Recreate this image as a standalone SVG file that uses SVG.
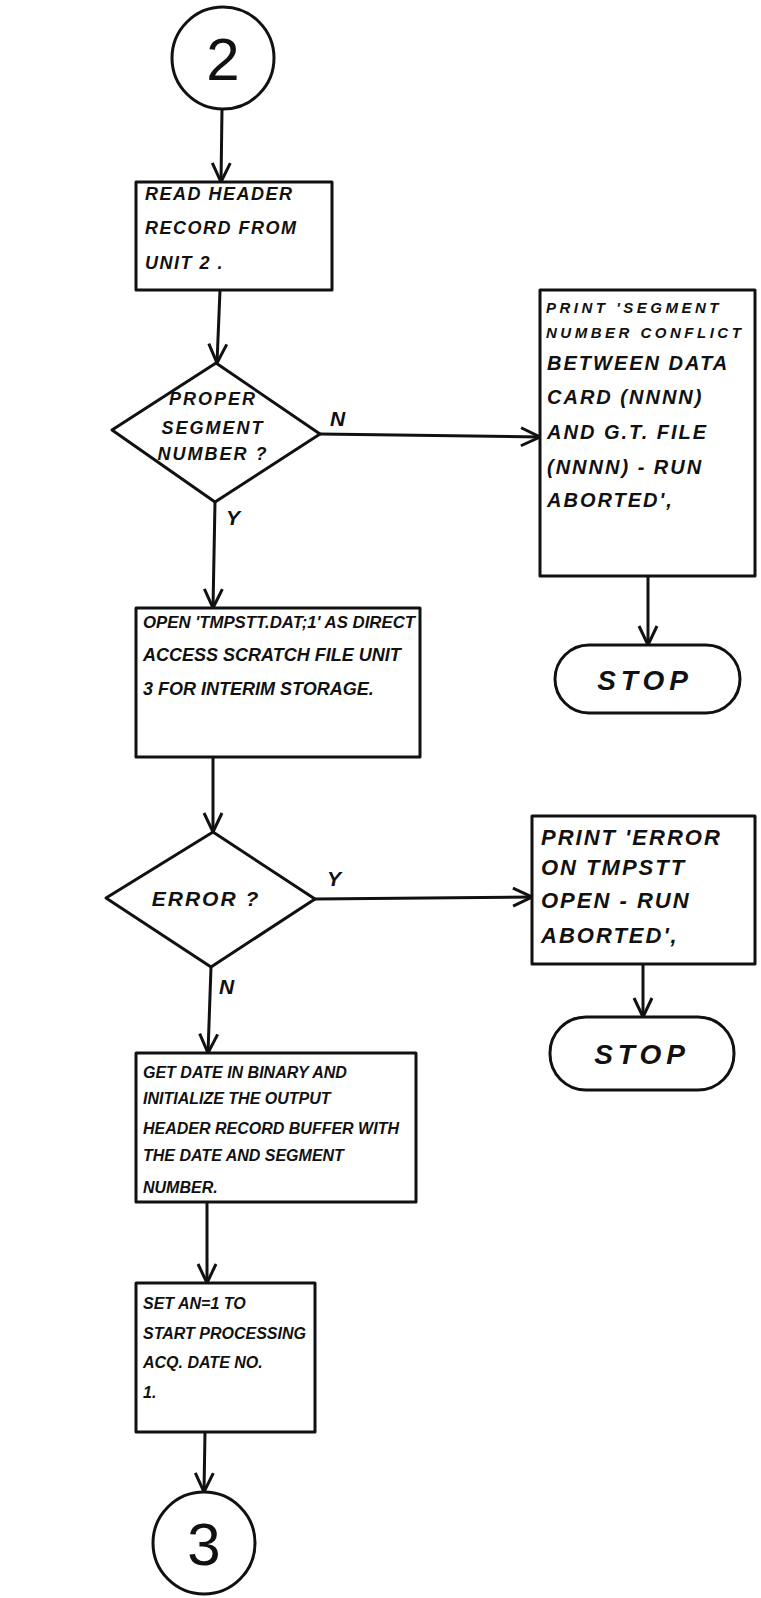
<svg xmlns="http://www.w3.org/2000/svg" width="761" height="1598" viewBox="0 0 761 1598">
<defs>
<style>
.shape{fill:none;stroke:#111;stroke-width:3;stroke-linejoin:round}
.conn{fill:none;stroke:#111;stroke-width:3}
.t{font-family:"Liberation Sans",Arial,sans-serif;font-style:italic;font-weight:bold;fill:#111;font-size:16px}
.tr{font-size:18px;letter-spacing:1.5px}
.td{font-size:18px;letter-spacing:2px}
.ts{font-size:15px;letter-spacing:3.5px}
.tm{font-size:20px;letter-spacing:2px}
.te{font-size:22px;letter-spacing:2px}
.lbl{font-family:"Liberation Sans",Arial,sans-serif;font-style:italic;font-weight:bold;fill:#111;font-size:21px}
.err{letter-spacing:2px}
.stop{font-family:"Liberation Sans",Arial,sans-serif;font-style:italic;font-weight:bold;fill:#111;font-size:28px;letter-spacing:5px}
.conn-t{font-family:"Liberation Sans",Arial,sans-serif;fill:#111;font-size:60px}
</style>
<marker id="arr" viewBox="0 0 22 22" refX="21" refY="11" markerWidth="22" markerHeight="22" markerUnits="userSpaceOnUse" orient="auto">
<path d="M2,2 L21,11 L2,20" fill="none" stroke="#111" stroke-width="3"/>
</marker>
</defs>
<rect width="761" height="1598" fill="#fff"/>

<g id="connectors">
<line class="conn" x1="222" y1="109" x2="221" y2="182" marker-end="url(#arr)"/>
<line class="conn" x1="220" y1="290" x2="217" y2="363" marker-end="url(#arr)"/>
<line class="conn" x1="320" y1="434" x2="540" y2="437" marker-end="url(#arr)"/>
<line class="conn" x1="648" y1="576" x2="648" y2="645" marker-end="url(#arr)"/>
<line class="conn" x1="215" y1="502" x2="213" y2="608" marker-end="url(#arr)"/>
<line class="conn" x1="213" y1="757" x2="213" y2="832" marker-end="url(#arr)"/>
<line class="conn" x1="315" y1="899" x2="532" y2="897" marker-end="url(#arr)"/>
<line class="conn" x1="643" y1="964" x2="643" y2="1017" marker-end="url(#arr)"/>
<line class="conn" x1="211" y1="967" x2="208" y2="1053" marker-end="url(#arr)"/>
<line class="conn" x1="207" y1="1202" x2="207" y2="1283" marker-end="url(#arr)"/>
<line class="conn" x1="205" y1="1432" x2="204" y2="1492" marker-end="url(#arr)"/>
<text class="lbl" x="330" y="426">N</text>
<text class="lbl" x="226" y="525">Y</text>
<text class="lbl" x="327" y="886">Y</text>
<text class="lbl" x="219" y="994">N</text>
</g>

<g id="start2">
<circle class="shape" cx="223" cy="58" r="51"/>
<text class="conn-t" x="223" y="80" text-anchor="middle">2</text>
</g>

<g id="readHeader">
<rect class="shape" x="136" y="182" width="196" height="108"/>
<text class="t tr" x="145" y="200">READ HEADER</text>
<text class="t tr" x="145" y="234">RECORD FROM</text>
<text class="t tr" x="145" y="269">UNIT 2 .</text>
</g>

<g id="properSegment">
<polygon class="shape" points="216,363 320,434 215,502 112,430"/>
<text class="t td" x="213" y="405" text-anchor="middle">PROPER</text>
<text class="t td" x="213" y="434" text-anchor="middle">SEGMENT</text>
<text class="t td" x="213" y="460" text-anchor="middle">NUMBER ?</text>
</g>

<g id="printSegment">
<rect class="shape" x="540" y="290" width="215" height="286"/>
<text class="t ts" x="546" y="313">PRINT 'SEGMENT</text>
<text class="t ts" x="546" y="338">NUMBER CONFLICT</text>
<text class="t tm" x="547" y="370">BETWEEN DATA</text>
<text class="t tm" x="547" y="404">CARD (NNNN)</text>
<text class="t tm" x="547" y="439">AND G.T. FILE</text>
<text class="t tm" x="547" y="474">(NNNN) - RUN</text>
<text class="t tm" x="547" y="507">ABORTED',</text>
</g>

<g id="stop1">
<rect class="shape" x="555" y="645" width="185" height="68" rx="34"/>
<text class="stop" x="645" y="690" text-anchor="middle">STOP</text>
</g>

<g id="openTmpstt">
<rect class="shape" x="136" y="608" width="284" height="149"/>
<text class="t" x="143" y="628" style="font-size:17px" textLength="272" lengthAdjust="spacingAndGlyphs">OPEN 'TMPSTT.DAT;1' AS DIRECT</text>
<text class="t" x="143" y="661" style="font-size:18px">ACCESS SCRATCH FILE UNIT</text>
<text class="t" x="143" y="695" style="font-size:18px">3 FOR INTERIM STORAGE.</text>
</g>

<g id="errorQ">
<polygon class="shape" points="213,832 315,899 211,967 106,898"/>
<text class="lbl err" x="206" y="906" text-anchor="middle">ERROR ?</text>
</g>

<g id="printError">
<rect class="shape" x="532" y="816" width="223" height="148"/>
<text class="t te" x="541" y="845">PRINT 'ERROR</text>
<text class="t te" x="541" y="875">ON TMPSTT</text>
<text class="t te" x="541" y="908">OPEN - RUN</text>
<text class="t te" x="541" y="943">ABORTED',</text>
</g>

<g id="stop2">
<rect class="shape" x="550" y="1017" width="184" height="73" rx="36"/>
<text class="stop" x="642" y="1064" text-anchor="middle">STOP</text>
</g>

<g id="getDate">
<rect class="shape" x="136" y="1053" width="280" height="149"/>
<text class="t" x="143" y="1078">GET DATE IN BINARY AND</text>
<text class="t" x="143" y="1104">INITIALIZE THE OUTPUT</text>
<text class="t" x="143" y="1134">HEADER RECORD BUFFER WITH</text>
<text class="t" x="143" y="1161">THE DATE AND SEGMENT</text>
<text class="t" x="143" y="1193">NUMBER.</text>
</g>

<g id="setAn">
<rect class="shape" x="136" y="1283" width="179" height="149"/>
<text class="t" x="143" y="1309">SET AN=1 TO</text>
<text class="t" x="143" y="1339">START PROCESSING</text>
<text class="t" x="143" y="1368">ACQ. DATE NO.</text>
<text class="t" x="143" y="1398">1.</text>
</g>

<g id="connector3">
<circle class="shape" cx="204" cy="1543" r="51"/>
<text class="conn-t" x="204" y="1565" text-anchor="middle">3</text>
</g>
</svg>
